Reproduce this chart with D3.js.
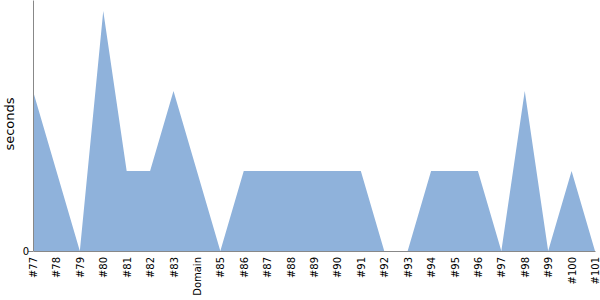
<!DOCTYPE html>
<html>
<head>
<meta charset="utf-8">
<script src="https://cdn.jsdelivr.net/npm/d3@7"></script>
<style>
  body { margin: 0; background: #fff; }
  text { font-family: "DejaVu Sans", sans-serif; }
</style>
</head>
<body>
<svg id="chart" width="600" height="300"></svg>
<script>
const categories = ['#77', '#78', '#79', '#80', '#81', '#82', '#83', 'Domain', '#85', '#86',
    '#87', '#88', '#89', '#90', '#91', '#92', '#93', '#94', '#95', '#96',
    '#97', '#98', '#99', '#100', '#101'];
const seconds = [2, 1, 0, 3, 1, 1, 2, 1, 0, 1,
    1, 1, 1, 1, 1, 0, 0, 1, 1, 1,
    0, 2, 0, 1, 0];
const yTicks = [0];
const yLabel = 'seconds';

const margin = { top: 0, right: 5, bottom: 49, left: 33 };
const width = 600 - margin.left - margin.right;
const height = 300 - margin.top - margin.bottom;

const svg = d3.select('#chart')
    .append('g')
    .attr('transform', `translate(${margin.left},${margin.top})`);

const x = d3.scalePoint()
    .domain(categories)
    .range([0, width]);

const y = d3.scaleLinear()
    .domain([0, 3.1375])
    .range([height, 0]);

const area = d3.area()
    .x((d, i) => x(categories[i]))
    .y0(y(0))
    .y1((d) => y(d));

svg.append('path')
    .datum(seconds)
    .attr('fill', '#8fb2db')
    .attr('d', area);

const xAxis = svg.append('g')
    .attr('transform', `translate(0,${height})`)
    .call(d3.axisBottom(x).tickSize(0).tickSizeOuter(0));
xAxis.select('.domain').attr('stroke', '#888');
xAxis.selectAll('text')
    .attr('font-family', 'DejaVu Sans')
    .attr('font-size', 10)
    .attr('fill', '#000')
    .attr('transform', 'rotate(-90)')
    .attr('text-anchor', 'end')
    .attr('x', -6)
    .attr('y', 0)
    .attr('dy', '0.35em');

const yAxis = svg.append('g')
    .call(d3.axisLeft(y).tickValues(yTicks).tickFormat(d3.format('d')).tickSize(5).tickSizeOuter(0));
yAxis.select('.domain').attr('stroke', '#888');
yAxis.selectAll('.tick line').attr('stroke', '#888');
yAxis.selectAll('text')
    .attr('font-family', 'DejaVu Sans')
    .attr('font-size', 10)
    .attr('fill', '#000')
    .attr('x', -4);

svg.append('text')
    .attr('transform', 'rotate(-90)')
    .attr('x', -124)
    .attr('y', -28)
    .attr('dy', '0.71em')
    .attr('text-anchor', 'middle')
    .attr('font-size', 13)
    .attr('fill', '#000')
    .text(yLabel);
</script>
</body>
</html>
